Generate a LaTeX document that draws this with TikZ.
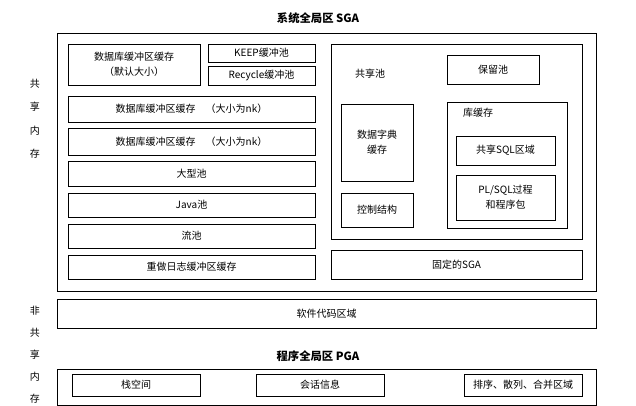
\documentclass[tikz,border=0pt]{standalone}
\usepackage{fontspec}
\setmainfont{Noto Sans CJK SC}
\usetikzlibrary{fit}

\begin{document}
\begin{tikzpicture}[
                        x=0.75pt,
                        y=-0.75pt,
                        font=\fontsize{7.5}{11}\selectfont,
                        line width=0.6pt
                    ]
                    \tikzstyle{box}=[draw=black,inner sep=0pt]
                    \tikzstyle{title}=[font=\fontsize{8.5}{10}\selectfont\bfseries]
                    \tikzstyle{txt}=[align=center]
                    \useasboundingbox (0,0) rectangle (636,405);

                    % SGA
                    \node[title] (sgat) at (318,18) {系统全局区 SGA};
                    \node[box,fit={(57,33)(596,291)}] (sga) {};
                    \node[box,fit={(68,44)(200,85)}] (dbc) {};
                    \node[txt] at (dbc) {数据库缓冲区缓存\\（默认大小）};
                    \node[box,fit={(208,44)(315,62)}] (keep) {};
                    \node[txt] at (keep) {KEEP缓冲池};
                    \node[box,fit={(208,66)(315,85)}] (recy) {};
                    \node[txt] at (recy) {Recycle缓冲池};
                    \node[box,fit={(68,96)(315,122)}] (nk1) {};
                    \node[txt] at (nk1) {数据库缓冲区缓存\quad（大小为nk）};
                    \node[box,fit={(68,128)(315,155)}] (nk2) {};
                    \node[txt] at (nk2) {数据库缓冲区缓存\quad（大小为nk）};
                    \node[box,fit={(68,161)(315,186)}] (large) {};
                    \node[txt] at (large) {大型池};
                    \node[box,fit={(68,193)(315,217)}] (java) {};
                    \node[txt] at (java) {Java池};
                    \node[box,fit={(68,224)(315,248)}] (stream) {};
                    \node[txt] at (stream) {流池};
                    \node[box,fit={(68,255)(315,279)}] (redo) {};
                    \node[txt] at (redo) {重做日志缓冲区缓存};

                    % shared pool
                    \node[box,fit={(331,44)(582,239)}] (shared) {};
                    \node (sharedt) at (370,74) {共享池};
                    \node[box,fit={(447,55)(539,84)}] (resv) {};
                    \node[txt] at (resv) {保留池};
                    \node[box,fit={(341,104)(413,181)}] (dict) {};
                    \node[txt] at (dict) {数据字典\\缓存};
                    \node[box,fit={(341,193)(413,227)}] (ctrl) {};
                    \node[txt] at (ctrl) {控制结构};
                    \node[box,fit={(447,102)(567,228)}] (lib) {};
                    \node (libt) at (478,113) {库缓存};
                    \node[box,fit={(456,136)(555,165)}] (sql) {};
                    \node[txt] at (sql) {共享SQL区域};
                    \node[box,fit={(456,175)(555,220)}] (plsql) {};
                    \node[txt] at (plsql) {PL/SQL过程\\和程序包};
                    \node[box,fit={(331,250)(582,279)}] (fixed) {};
                    \node[txt] at (fixed) {固定的SGA};

                    % left labels
                    \foreach \c [count=\i] in {共,享,内,存}
                        \node (sh\i) at (35,60+23.5*\i) {\c};
                    \foreach \c [count=\i] in {非,共,享,内,存}
                        \node (ns\i) at (35,289+22*\i) {\c};

                    % code area
                    \node[box,fit={(57,299)(596,328)}] (code) {};
                    \node[txt] at (code) {软件代码区域};

                    % PGA
                    \node[title] (pgat) at (318,356) {程序全局区 PGA};
                    \node[box,fit={(57,369)(596,405)}] (pga) {};
                    \node[box,fit={(72,374)(200,396)}] (stack) {};
                    \node[txt] at (stack) {栈空间};
                    \node[box,fit={(256,374)(384,396)}] (sess) {};
                    \node[txt] at (sess) {会话信息};
                    \node[box,fit={(464,374)(582,396)}] (sort) {};
                    \node[txt] at (sort) {排序、散列、合并区域};

                \end{tikzpicture}
\end{document}
